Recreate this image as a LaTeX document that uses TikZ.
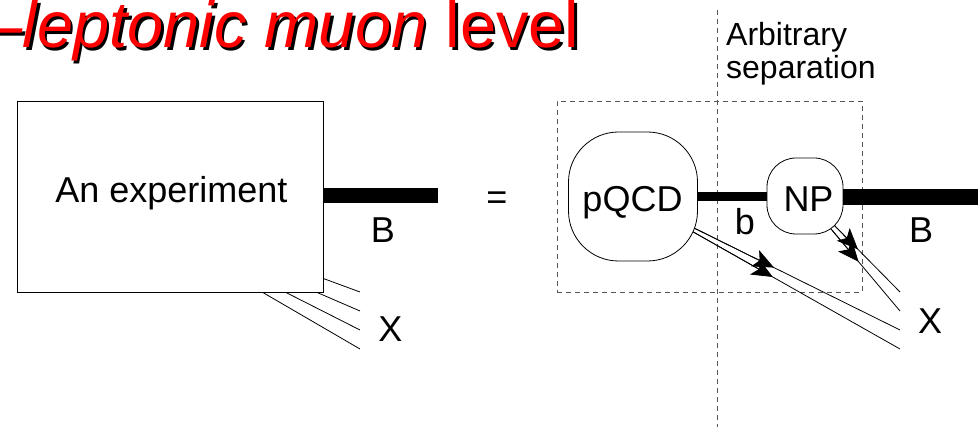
\documentclass[tikz,border=0pt]{standalone}
\usepackage{fontspec}
\setmainfont{Liberation Sans}
\usetikzlibrary{arrows.meta,calc}
\definecolor{dashgray}{HTML}{555555}
\tikzset{
  titletext/.style={anchor=base west,inner sep=0pt,font=\fontsize{65}{70}\selectfont},
  lbl/.style={inner sep=0pt,font=\fontsize{36}{40}\selectfont},
  blob/.style={draw,fill=white,line width=0.8pt,inner sep=0pt},
  thinline/.style={line width=0.8pt},
  sepline/.style={draw=dashgray,line width=0.8pt,dash pattern=on 5pt off 4pt},
  headtip/.style={line width=0.8pt,-{Stealth[length=21pt,width=18pt,inset=5pt]}},
}
\begin{document}
\begin{tikzpicture}[x=1pt,y=-1pt]
\useasboundingbox (0,0) rectangle (978,427);
% title with shadow
\node[titletext,text=black] (titleshadow) at (-11,50.5) {\textit{–leptonic muon} level};
\node[titletext,text=red] (title) at (-13.5,48) {\textit{–leptonic muon} level};

% left side: experiment
\coordinate (x1s) at (322,278); \coordinate (x1e) at (360,292);
\coordinate (x2s) at (316,292); \coordinate (x2e) at (360,311);
\coordinate (x3s) at (285,292); \coordinate (x3e) at (360,330);
\coordinate (x4s) at (262,292); \coordinate (x4e) at (360,349);
\draw[thinline] (x1s) -- (x1e);
\draw[thinline] (x2s) -- (x2e);
\draw[thinline] (x3s) -- (x3e);
\draw[thinline] (x4s) -- (x4e);
\node[draw,fill=white,line width=0.8pt,minimum width=306pt,minimum height=191pt,inner sep=0pt] (exp) at (170,196.5) {};
\node[lbl,anchor=base] (exptext) at (171.5,203) {An experiment};
\coordinate (bend) at (438,196);
\draw[line width=15pt] (exp.east |- bend) -- (bend);
\node[lbl] (Bl) at (383,230.5) {B};
\node[lbl] (Xl) at (390.5,329) {X};

\node[lbl] (eq) at (497,201) {=};

% right side
\coordinate (septop) at (717,10);
\coordinate (sepbot) at (717,427);
\draw[sepline] (septop) -- (sepbot);
\node[sepline,minimum width=305pt,minimum height=191pt,inner sep=0pt] (dbox) at (709.5,196.5) {};
\node[inner sep=0pt,anchor=north west,align=left,font=\fontsize{32}{33}\selectfont] (arb) at (726,22.5) {Arbitrary\\separation};

\coordinate (p1s) at (690,226); \coordinate (p1e) at (900,330);
\coordinate (p2s) at (688,229); \coordinate (p2e) at (900,349);
\coordinate (n1s) at (830,221); \coordinate (n1e) at (900,292);
\coordinate (n2s) at (826,223); \coordinate (n2e) at (900,311);
\draw[thinline] (p1s) -- (p1e);
\draw[thinline] (p2s) -- (p2e);
\draw[thinline] (n1s) -- (n1e);
\draw[thinline] (n2s) -- (n2e);
\draw[headtip] (p1s) -- ($(p1s)!0.40!(p1e)$);
\draw[headtip] (p2s) -- ($(p2s)!0.40!(p2e)$);
\draw[headtip] (n1s) -- ($(n1s)!0.40!(n1e)$);
\draw[headtip] (n2s) -- ($(n2s)!0.44!(n2e)$);

\node[blob,minimum width=129pt,minimum height=129pt,rounded corners=50pt] (pqcd) at (633,196.5) {};
\node[blob,minimum width=76pt,minimum height=76pt,rounded corners=29pt] (np) at (805,196) {};
\node[lbl,anchor=base] (pqcdt) at (632.5,212) {pQCD};
\node[lbl,anchor=base] (npt) at (808.5,212) {NP};
\draw[line width=9pt] (pqcd.east |- 0,197) -- (np.west |- 0,197);
\coordinate (rend) at (978,197);
\draw[line width=16pt] (np.east |- rend) -- (rend);
\node[lbl] (bl) at (745,222) {b};
\node[lbl] (Br) at (921,230.5) {B};
\node[lbl] (Xr) at (930,321) {X};
\end{tikzpicture}
\end{document}
